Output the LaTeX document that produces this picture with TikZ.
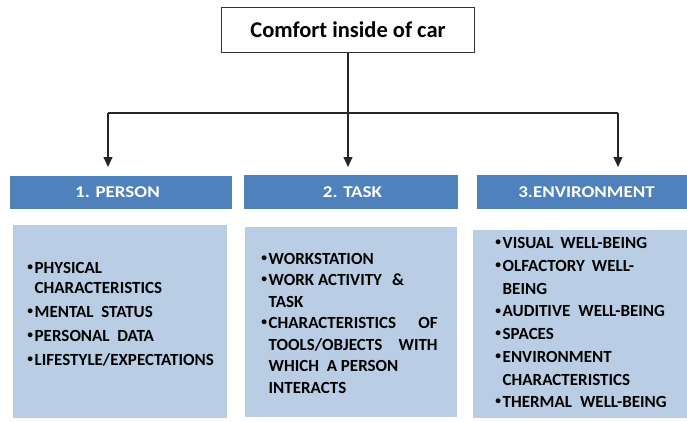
\documentclass[tikz,border=0pt]{standalone}
\usepackage{fontspec}
\setmainfont{Carlito}
\newfontfamily\hdrfont[FakeStretch=1.15]{Carlito}
\usetikzlibrary{arrows.meta}
\definecolor{hdrblue}{HTML}{4F81BD}
\definecolor{boxblue}{HTML}{B9CDE5}
\newcommand{\itm}{\makebox[7.5pt][l]{\hspace*{0.2pt}\raisebox{2.9pt}{\fontsize{11.5}{11.5}\selectfont •}}}
\newcommand{\ind}{\hspace*{7.5pt}}
\tikzset{
  hdr/.style={fill=hdrblue, draw=none, text=white, font=\hdrfont\bfseries\fontsize{16.5}{18}\selectfont},
  cbox/.style={fill=boxblue, draw=none},
  ltext/.style={anchor=north west, inner sep=0pt, align=left},
  conn/.style={line width=1.2pt, draw=black!85},
  arr/.style={conn, -{Triangle[width=9pt,length=10pt]}}
}
\begin{document}
\begin{tikzpicture}[x=1pt,y=-1pt]
\useasboundingbox (0,0) rectangle (687,421);
% title
\node[draw=black!80, line width=0.8pt, minimum width=253pt, minimum height=45pt, font=\bfseries\fontsize{22.5}{25}\selectfont] (title) at (348,30) {Comfort inside of car};
% headers
\node[hdr, minimum width=222pt, minimum height=33pt] (h1) at (121,192.5) {\hspace*{-7pt}1. PERSON};
\node[hdr, minimum width=214pt, minimum height=34pt] (h2) at (351,192) {\hspace*{3pt}2. TASK};
\node[hdr, minimum width=210pt, minimum height=34pt] (h3) at (582,192) {\hspace*{9pt}3.ENVIRONMENT};
% content boxes
\node[cbox, minimum width=214pt, minimum height=193pt] (b1) at (120,321.5) {};
\node[cbox, minimum width=212pt, minimum height=190pt] (b2) at (351,322) {};
\node[cbox, minimum width=214pt, minimum height=188pt] (b3) at (580,324) {};
% texts
\node[ltext, font=\bfseries\fontsize{17}{24}\selectfont] (t1) at (27,262.5) {\itm PHYSICAL\\[-4pt] \ind CHARACTERISTICS\\ \itm MENTAL\ \ STATUS\\ \itm PERSONAL\ \ DATA\\ \itm LIFESTYLE/EXPECTATIONS};
\node[ltext, font=\bfseries\fontsize{17}{21.5}\selectfont] (t2) at (261,253) {\itm WORKSTATION\\ \itm WORK ACTIVITY\hspace{10pt}\&\\ \ind TASK\\ \itm \makebox[169pt][s]{CHARACTERISTICS OF}\\ \ind \makebox[169pt][s]{TOOLS/OBJECTS WITH}\\ \ind WHICH\ \ A PERSON\\ \ind INTERACTS};
\node[ltext, font=\bfseries\fontsize{17}{22.7}\selectfont] (t3) at (495,237.5) {\itm VISUAL\hspace{7pt}WELL-BEING\\ \itm OLFACTORY\hspace{7pt}WELL-\\ \ind BEING\\ \itm AUDITIVE\hspace{8pt}WELL-BEING\\ \itm SPACES\\ \itm ENVIRONMENT\\ \ind CHARACTERISTICS\\ \itm THERMAL\hspace{8pt}WELL-BEING};
% connectors
\coordinate (jc) at (348,113);
\coordinate (jl) at (108,113);
\coordinate (jr) at (618,113);
\coordinate (el) at (108,167);
\coordinate (ec) at (348,167);
\coordinate (er) at (618,167);
\draw[arr] (title.south) -- (ec);
\draw[conn] (jl) -- (jr);
\draw[arr] (jl) -- (el);
\draw[arr] (jr) -- (er);
\end{tikzpicture}
\end{document}
